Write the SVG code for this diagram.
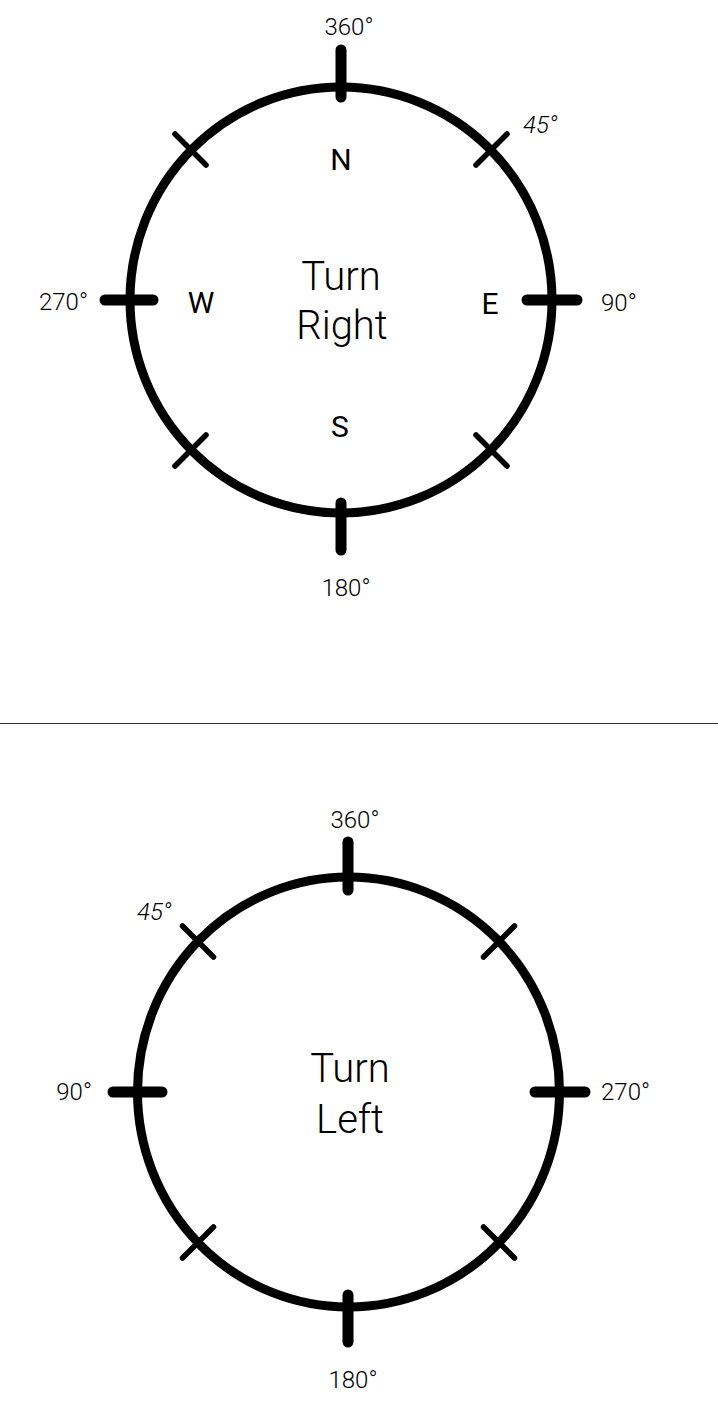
<svg xmlns="http://www.w3.org/2000/svg" width="718" height="1412" viewBox="0 0 718 1412">
<style>
.ring{fill:none;stroke:#000;stroke-width:9}
.card{stroke:#000;stroke-width:11;stroke-linecap:round}
.diag{stroke:#000;stroke-width:5.5;stroke-linecap:round}
.deg{font-family:Roboto,"Liberation Sans",sans-serif;font-weight:300;font-size:24px;fill:#000}
.it{font-style:italic}
.dir{font-family:Roboto,"Liberation Sans",sans-serif;font-weight:400;font-size:30px;fill:#000;text-anchor:middle}
.big{font-family:Roboto,"Liberation Sans",sans-serif;font-weight:300;font-size:40px;fill:#000;text-anchor:middle}
</style>
<rect width="718" height="1412" fill="#fff"/>
<g id="compass-right">
<ellipse class="ring" cx="341" cy="300" rx="211" ry="213"/>
<line class="card" x1="341" y1="50" x2="341" y2="97"/>
<line class="card" x1="341" y1="503" x2="341" y2="550"/>
<line class="card" x1="105" y1="300" x2="153" y2="300"/>
<line class="card" x1="527" y1="300" x2="577" y2="300"/>
<line class="diag" x1="476" y1="165" x2="507" y2="134"/>
<line class="diag" x1="206" y1="165" x2="175" y2="134"/>
<line class="diag" x1="206" y1="435" x2="175" y2="466"/>
<line class="diag" x1="476" y1="435" x2="507" y2="466"/>
<text class="deg" x="349" y="35" text-anchor="middle">360°</text>
<text class="deg it" x="523" y="133">45°</text>
<text class="deg" x="88" y="310" text-anchor="end">270°</text>
<text class="deg" x="601" y="311">90°</text>
<text class="deg" x="346" y="596" text-anchor="middle">180°</text>
<text class="dir" x="341" y="170">N</text>
<text class="dir" x="340" y="437">S</text>
<text class="dir" x="201" y="313">W</text>
<text class="dir" x="490" y="314">E</text>
<text class="big" x="341" y="290">Turn</text>
<text class="big" x="342" y="339">Right</text>
</g>
<g id="divider">
<line x1="0" y1="723.5" x2="718" y2="723.5" stroke="#333" stroke-width="1"/>
</g>
<g id="compass-left">
<ellipse class="ring" cx="348.5" cy="1092" rx="211" ry="215"/>
<line class="card" x1="348" y1="842" x2="348" y2="890"/>
<line class="card" x1="348" y1="1295" x2="348" y2="1342"/>
<line class="card" x1="113" y1="1092" x2="162" y2="1092"/>
<line class="card" x1="535" y1="1092" x2="585" y2="1092"/>
<line class="diag" x1="213.5" y1="957" x2="182.5" y2="926"/>
<line class="diag" x1="483.5" y1="957" x2="514.5" y2="926"/>
<line class="diag" x1="213.5" y1="1227" x2="182.5" y2="1258"/>
<line class="diag" x1="483.5" y1="1227" x2="514.5" y2="1258"/>
<text class="deg" x="355" y="828" text-anchor="middle">360°</text>
<text class="deg it" x="137" y="920">45°</text>
<text class="deg" x="92" y="1100" text-anchor="end">90°</text>
<text class="deg" x="601" y="1100">270°</text>
<text class="deg" x="353" y="1388" text-anchor="middle">180°</text>
<text class="big" x="350" y="1082">Turn</text>
<text class="big" x="350" y="1133">Left</text>
</g>
</svg>
